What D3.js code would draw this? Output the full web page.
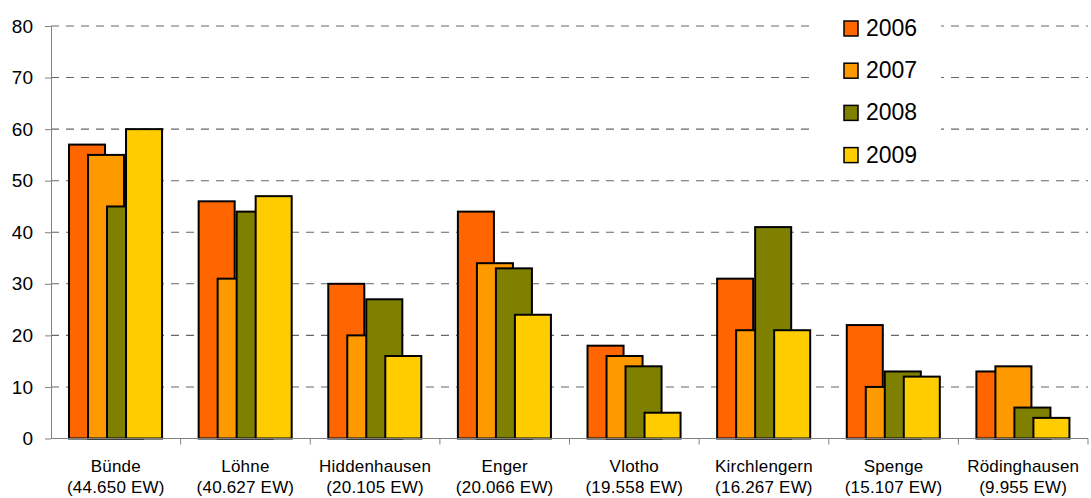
<!DOCTYPE html>
<meta charset="utf-8">
<body style="margin:0;background:#fff">
<script src="https://d3js.org/d3.v7.min.js"></script>
<div id="chart"></div>
<script>

// data
var categories = ["Bünde", "Löhne", "Hiddenhausen", "Enger", "Vlotho", "Kirchlengern", "Spenge", "Rödinghausen"];
var population = ["(44.650 EW)", "(40.627 EW)", "(20.105 EW)", "(20.066 EW)", "(19.558 EW)", "(16.267 EW)", "(15.107 EW)", "(9.955 EW)"];
var years = ["2006", "2007", "2008", "2009"];
var v2006 = [57, 46, 30, 44, 18, 31, 22, 13];
var v2007 = [55, 31, 20, 34, 16, 21, 10, 14];
var v2008 = [45, 44, 27, 33, 14, 41, 13, 6];
var v2009 = [60, 47, 16, 24, 5, 21, 12, 4];
var yTicks = [0, 10, 20, 30, 40, 50, 60, 70, 80];

var series = [v2006, v2007, v2008, v2009];
var colors = ["#FF6600", "#FF9900", "#808000", "#FFCC00"];
var font = "'Liberation Sans', Arial, sans-serif";

// plot area (note: "top" is a reserved window property, so use a margin object)
var W = 1091, H = 498;
var plot = {left: 51, right: 1088, top: 26, bottom: 438.5};

var svg = d3.select("#chart")
  .append("svg")
    .attr("width", W)
    .attr("height", H)
    .style("font-family", font);

// scales
var x = d3.scaleBand()
  .domain(categories)
  .range([plot.left, plot.right])
  .padding(0);

var bw = x.bandwidth();
var barW = bw * 0.278;

// position of each year's bar inside a group (bars overlap)
var xYear = d3.scalePoint()
  .domain(years)
  .range([bw * 0.139, bw * 0.139 + 3 * bw * 0.1466]);

var y = d3.scaleLinear()
  .domain([0, 80])
  .range([plot.bottom, plot.top]);

// dashed gridlines
svg.append("g")
  .selectAll("line")
  .data(yTicks.filter(function(d) { return d > 0; }))
  .join("line")
    .attr("x1", plot.left)
    .attr("x2", plot.right)
    .attr("y1", function(d) { return y(d); })
    .attr("y2", function(d) { return y(d); })
    .attr("stroke", "#666")
    .attr("stroke-width", 1.1)
    .attr("stroke-dasharray", "8,7");

// legend background hides the grid behind it
svg.append("rect")
  .attr("x", 813)
  .attr("y", 4)
  .attr("width", 128)
  .attr("height", 168)
  .attr("fill", "#fff");

// bars, one group per town, later years drawn on top
var groups = svg.append("g")
  .selectAll("g")
  .data(categories)
  .join("g")
    .attr("transform", function(d) { return "translate(" + x(d) + ",0)"; });

groups.selectAll("rect")
  .data(function(d, i) {
    return years.map(function(yr, j) { return {year: yr, idx: j, value: series[j][i]}; });
  })
  .join("rect")
    .attr("x", function(d) { return xYear(d.year); })
    .attr("y", function(d) { return y(d.value); })
    .attr("width", barW)
    .attr("height", function(d) { return y(0) - y(d.value); })
    .attr("fill", function(d) { return colors[d.idx]; })
    .attr("stroke", "#000")
    .attr("stroke-width", 2);

// y axis
var yAxis = svg.append("g")
  .attr("transform", "translate(" + plot.left + ",0)")
  .call(d3.axisLeft(y).tickValues(yTicks).tickSize(6).tickPadding(12).tickSizeOuter(0));
yAxis.select(".domain").attr("stroke", "#808080");
yAxis.selectAll(".tick line").attr("stroke", "#808080");
yAxis.selectAll("text")
  .style("font-family", font)
  .style("font-size", "19px")
  .attr("fill", "#000");

// x axis: ticks at group boundaries
var xAxis = svg.append("g")
  .attr("transform", "translate(0," + plot.bottom + ")");
xAxis.append("line")
  .attr("x1", plot.left)
  .attr("x2", plot.right)
  .attr("stroke", "#808080");
xAxis.selectAll(".sep")
  .data(categories)
  .join("line")
    .attr("class", "sep")
    .attr("x1", function(d) { return x(d) + bw; })
    .attr("x2", function(d) { return x(d) + bw; })
    .attr("y1", 0)
    .attr("y2", 6)
    .attr("stroke", "#808080");

// category labels, two lines
var labels = svg.append("g")
  .selectAll("text")
  .data(categories)
  .join("text")
    .attr("text-anchor", "middle")
    .style("font-size", "17px")
    .style("letter-spacing", "0.2px")
    .attr("fill", "#000");
labels.append("tspan")
  .attr("x", function(d) { return x(d) + bw / 2; })
  .attr("y", 472)
  .text(function(d) { return d; });
labels.append("tspan")
  .attr("x", function(d) { return x(d) + bw / 2; })
  .attr("y", 493)
  .text(function(d, i) { return population[i]; });

// legend
var legend = svg.append("g")
  .selectAll("g")
  .data(years)
  .join("g")
    .attr("transform", function(d, i) { return "translate(844," + (21 + i * 42.2) + ")"; });
legend.append("rect")
  .attr("width", 14)
  .attr("height", 15)
  .attr("fill", function(d, i) { return colors[i]; })
  .attr("stroke", "#000")
  .attr("stroke-width", 1.5);
legend.append("text")
  .attr("x", 22)
  .attr("y", 15)
  .style("font-size", "23px")
  .attr("fill", "#000")
  .text(function(d) { return d; });

</script>
</body>
